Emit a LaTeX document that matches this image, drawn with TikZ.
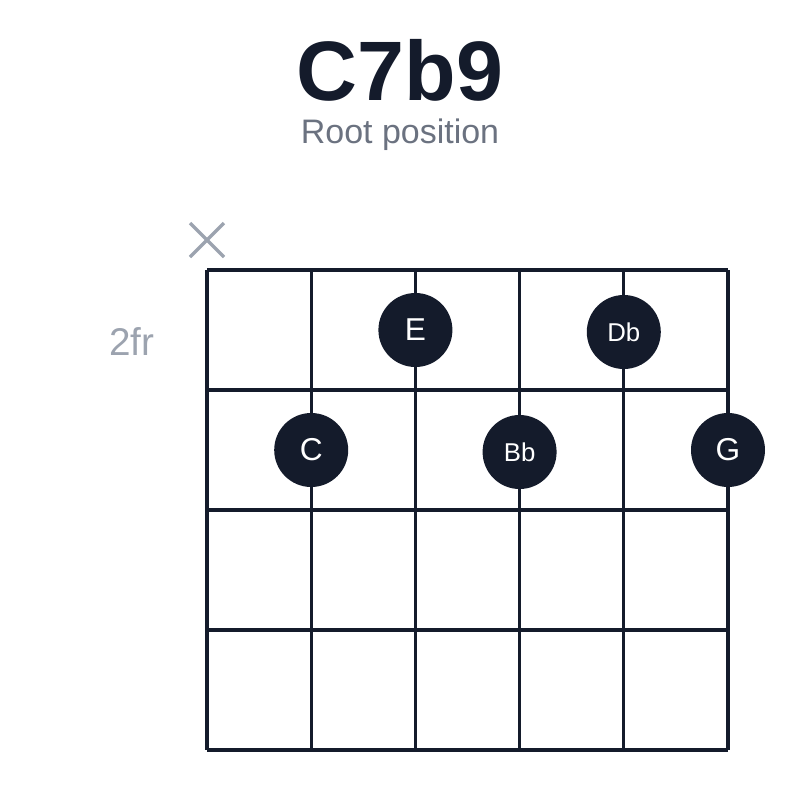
\documentclass[tikz,border=0pt]{standalone}
\usepackage{fontspec}
\setmainfont{Liberation Sans}
\definecolor{ink}{HTML}{141B2B}
\definecolor{subgray}{HTML}{6B7280}
\definecolor{mutegray}{HTML}{9CA3AF}
\begin{document}
\begin{tikzpicture}[x=0.03cm, y=-0.03cm,
    grid/.style = {draw=ink, line width=2.6pt},
    dot/.style = {circle, fill=ink, text=white, minimum size=2.22cm, inner sep=0pt},
    big/.style = {font=\fontsize{27}{27}\selectfont},
    small/.style = {font=\fontsize{22}{22}\selectfont}]
    \useasboundingbox (0,0) rectangle (800,800);
    \node[text=ink, font=\fontsize{72}{72}\bfseries\selectfont] (title) at (400,70) {C7b9};
    \node[text=subgray, font=\fontsize{29}{29}\selectfont] (subtitle) at (400,135) {Root position};
    \node[text=mutegray, font=\fontsize{33}{33}\selectfont] (fret) at (132,342) {2fr};

    % strings and frets
    \foreach \x in {207,311.2,415.4,519.6,623.8,728}
        \draw[grid] (\x,270) -- (\x,750);
    \foreach \y in {270,390,510,630,750}
        \draw[grid] (207,\y) -- (728,\y);

    % muted string
    \coordinate (m1) at (190,223);
    \coordinate (m2) at (224,257);
    \coordinate (m3) at (224,223);
    \coordinate (m4) at (190,257);
    \draw[mutegray, line width=3pt] (m1) -- (m2);
    \draw[mutegray, line width=3pt] (m3) -- (m4);

    % fingers
    \node[dot, big] (E) at (415.4,330) {E};
    \node[dot, small] (Db) at (623.8,332) {Db};
    \node[dot, big] (C) at (311.2,450) {C};
    \node[dot, small] (Bb) at (519.6,452) {Bb};
    \node[dot, big] (G) at (728,450) {G};
\end{tikzpicture}
\end{document}
